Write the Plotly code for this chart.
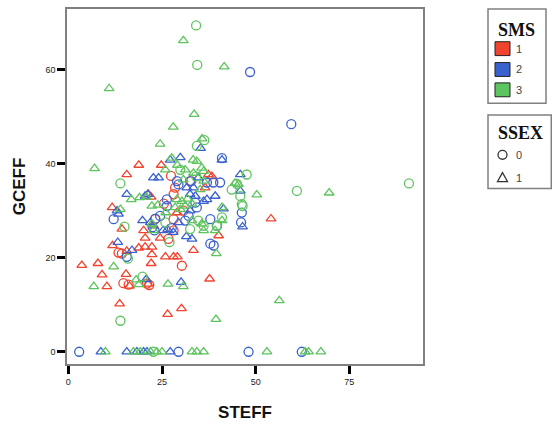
import plotly.graph_objects as go

# ---- data (STEFF, GCEFF) by SMS group and SSEX ----
red_circle_steff = [27.4, 28.5, 28.1, 30.7, 28.1, 23.2, 13.4, 14.3, 14.7, 16.1, 21.0, 21.6, 30.3, 28.1, 26.7, 25.5, 32.8]
red_circle_gceff = [37.4, 34.9, 33.5, 30.0, 28.2, 28.2, 21.1, 20.9, 14.6, 14.3, 14.5, 14.2, 18.3, 25.8, 24.0, 31.5, 36.3]

red_tri_steff = [18.8, 24.8, 15.6, 21.4, 22.1, 11.7, 14.3, 22.7, 20.1, 20.5, 24.5, 18.8, 20.5, 22.3, 22.3,
                 25.9, 28.1, 29.1, 22.1, 7.9, 3.6, 9.0, 15.4, 21.3, 10.3, 13.7, 26.5, 30.2, 37.7, 33.4,
                 40.1, 36.5, 37.4, 38.3, 29.0, 54.1, 11.8, 15.6, 16.3]
red_tri_gceff = [39.7, 39.7, 37.7, 33.5, 32.9, 30.7, 26.1, 26.8, 25.8, 24.2, 24.2, 22.1, 22.3, 22.3, 20.7,
                 20.2, 20.2, 20.2, 18.8, 18.8, 18.4, 16.4, 16.5, 14.4, 13.9, 10.2, 8.0, 9.2, 15.5, 21.6,
                 24.7, 34.9, 37.7, 37.3, 29.6, 28.3, 22.6, 21.4, 14.0]

blue_circle_steff = [48.5, 59.5, 41.0, 32.5, 37.0, 40.5, 38.7, 46.3, 46.1, 37.9, 39.7, 29.0, 29.4, 33.9, 34.3,
                     32.1, 31.2, 26.3, 26.3, 12.1, 24.5, 27.6, 15.6, 37.9, 38.8, 23.2, 22.5, 23.0,
                     2.9, 29.4, 48.1, 62.3]
blue_circle_gceff = [59.5, 48.4, 41.2, 36.3, 36.0, 36.0, 36.0, 29.6, 27.5, 28.2, 26.8, 36.3, 35.6, 31.7, 30.7,
                     28.9, 27.9, 32.4, 31.0, 28.2, 28.9, 26.3, 20.2, 23.0, 22.6, 28.3, 26.5, 25.8,
                     0, 0, 0, 0]

blue_tri_steff = [35.3, 41.0, 29.9, 34.7, 45.9, 39.2, 45.9, 41.4, 32.5, 46.5, 22.7, 24.1, 15.6, 20.5, 21.2,
                  13.0, 13.4, 19.8, 21.9, 31.6, 33.4, 32.5, 33.9, 36.1, 37.0, 29.4, 13.2, 17.0, 20.8, 30.1,
                  25.3, 26.5, 28.0, 31.5, 33.0, 27.2,
                  8.7, 15.6, 18.3, 20.1, 21.0, 27.2]
blue_tri_gceff = [43.3, 40.8, 41.3, 37.0, 37.7, 33.1, 34.2, 30.4, 30.0, 26.6, 37.0, 37.0, 33.5, 33.1, 33.5,
                  30.0, 29.3, 27.9, 27.5, 34.9, 34.9, 33.5, 33.1, 32.0, 32.4, 27.5, 23.3, 21.6, 15.4, 14.8,
                  25.8, 26.0, 25.4, 24.5, 24.0, 40.8,
                  0, 0, 0, 0, 0, 0]

green_circle_steff = [34.1, 34.4, 36.3, 34.3, 90.9, 61.0, 13.9, 29.9, 34.1, 47.6, 43.6, 45.9, 46.3, 41.0, 34.7,
                      36.1, 39.6, 15.0, 25.9, 27.0, 32.5, 15.9, 19.8, 13.9, 22.7, 46.5, 45.0]
green_circle_gceff = [69.4, 61.0, 45.0, 43.8, 35.8, 34.2, 35.8, 38.7, 37.3, 37.7, 34.5, 33.1, 31.4, 28.6, 27.9,
                      26.8, 26.8, 26.6, 27.5, 23.3, 26.1, 19.8, 16.0, 6.6, 0, 31.0, 35.7]

green_tri_steff = [30.7, 41.6, 10.9, 33.6, 28.0, 24.5, 35.7, 7.0, 25.9, 27.6, 29.1, 33.3, 34.3, 35.6, 36.1,
                   31.2, 33.4, 30.7, 36.1, 44.5, 45.4, 50.3, 35.2, 29.0, 30.3, 28.5, 29.9, 31.2, 41.0, 41.0,
                   33.0, 35.6, 26.0, 16.8, 19.0, 20.8, 22.3, 23.9, 13.9, 22.3, 22.7, 36.1, 39.2, 39.5, 12.1,
                   6.8, 18.1, 18.8, 26.6, 30.7, 39.4, 56.3, 69.6, 31.8, 33.0,
                   9.9, 17.4, 19.2, 21.9, 23.6, 25.0, 33.0, 34.3, 36.1, 53.0, 63.2, 64.1, 67.4]
green_tri_gceff = [66.2, 60.6, 56.0, 50.5, 47.8, 44.2, 45.3, 39.0, 38.7, 41.2, 39.7, 40.8, 40.5, 39.1, 38.4,
                   38.7, 38.0, 36.6, 36.3, 35.9, 35.6, 33.4, 34.5, 32.4, 32.0, 30.7, 30.3, 31.0, 30.7, 27.9,
                   27.9, 27.2, 29.6, 32.4, 32.8, 32.9, 31.0, 31.2, 30.3, 27.2, 25.8, 25.8, 25.8, 20.9, 18.1,
                   13.9, 15.3, 14.3, 14.4, 13.9, 6.9, 10.9, 33.8, 32.5, 31.5,
                   0, 0, 0, 0, 0, 0, 0, 0, 0, 0, 0, 0, 0]

sms_labels = ["1", "2", "3"]
ssex_labels = ["0", "1"]
x_ticks = [0, 25, 50, 75]
y_ticks = [0, 20, 40, 60]

RED, BLUE, GREEN = "#F0442F", "#3A62CF", "#5EC45E"

groups = [
    (red_tri_steff, red_tri_gceff, RED, "triangle-up-open"),
    (red_circle_steff, red_circle_gceff, RED, "circle-open"),
    (blue_tri_steff, blue_tri_gceff, BLUE, "triangle-up-open"),
    (blue_circle_steff, blue_circle_gceff, BLUE, "circle-open"),
    (green_circle_steff, green_circle_gceff, GREEN, "circle-open"),
    (green_tri_steff, green_tri_gceff, GREEN, "triangle-up-open"),
]

fig = go.Figure()
for xs, ys, col, sym in groups:
    fig.add_trace(go.Scatter(
        x=xs, y=ys, mode="markers", showlegend=False, hoverinfo="x+y",
        marker=dict(symbol=sym, size=9 if sym.startswith("circle") else 8.5,
                    color=col, line=dict(width=1.3, color=col)),
    ))

# ---- layout geometry (page pixels) ----
W, H = 552, 426
PL, PR, PT, PB = 67, 423, 7, 365   # plot area edges


def px(x):
    return (x - PL) / (PR - PL)


def py(y):
    return (PB - y) / (PB - PT)


shapes = []
annotations = []

# legend boxes
for (x0, y0, x1, y1) in [(488, 7, 546, 102), (488, 114, 551.3, 188)]:
    shapes.append(dict(type="rect", xref="paper", yref="paper",
                       x0=px(x0), x1=px(x1), y0=py(y1), y1=py(y0),
                       line=dict(color="#808080", width=1.5), fillcolor="white", layer="above"))

# SMS legend
annotations.append(dict(xref="paper", yref="paper", x=px(496), y=py(28.5), xanchor="left", yanchor="middle",
                        text="<b>SMS</b>", showarrow=False,
                        font=dict(family="Liberation Serif", size=18, color="#111111")))
for lab, col, cy in zip(sms_labels, [RED, BLUE, GREEN], [47, 68, 88.5]):
    shapes.append(dict(type="rect", xref="paper", yref="paper",
                       x0=px(495), x1=px(510), y0=py(cy + 7), y1=py(cy - 7),
                       line=dict(color="#222222", width=1), fillcolor=col, layer="above"))
    annotations.append(dict(xref="paper", yref="paper", x=px(514), y=py(cy), xanchor="left", yanchor="middle",
                            text=lab, showarrow=False,
                            font=dict(family="Liberation Sans", size=11, color="#444444")))

# SSEX legend
annotations.append(dict(xref="paper", yref="paper", x=px(496), y=py(132.5), xanchor="left", yanchor="middle",
                        text="<b>SSEX</b>", showarrow=False,
                        font=dict(family="Liberation Serif", size=18, color="#111111")))
cy0, cy1 = 154, 177
shapes.append(dict(type="circle", xref="paper", yref="paper",
                   x0=px(498), x1=px(507), y0=py(cy0 + 4.5), y1=py(cy0 - 4.5),
                   line=dict(color="#333333", width=1.3), layer="above"))
tri_path = "M {a},{b} L {c},{d} L {e},{d} Z".format(
    a=px(502.5), b=py(cy1 - 5), c=px(497.5), d=py(cy1 + 4), e=px(507.5))
shapes.append(dict(type="path", xref="paper", yref="paper", path=tri_path,
                   line=dict(color="#333333", width=1.3), layer="above"))
for lab, cy in zip(ssex_labels, [cy0, cy1]):
    annotations.append(dict(xref="paper", yref="paper", x=px(514), y=py(cy), xanchor="left", yanchor="middle",
                            text=lab, showarrow=False,
                            font=dict(family="Liberation Sans", size=11, color="#444444")))

axis_common = dict(
    showgrid=False, zeroline=False, showline=True, mirror=True,
    linecolor="#808080", linewidth=1.5,
    ticks="outside", ticklen=8, tickwidth=3, tickcolor="#000000",
    tickfont=dict(family="Liberation Sans", size=9, color="#222222"),
)

fig.update_layout(
    width=W, height=H,
    margin=dict(l=PL, r=W - PR, t=PT, b=H - PB),
    paper_bgcolor="white", plot_bgcolor="white",
    showlegend=False,
    xaxis=dict(range=[-0.35, 94.65], tickvals=x_ticks,
               title=dict(text="STEFF", standoff=21,
                          font=dict(family="Liberation Sans", size=17, color="#111111", weight="bold")),
               **axis_common),
    yaxis=dict(range=[-2.6, 72.9], tickvals=y_ticks,
               title=dict(text="GCEFF", standoff=15,
                          font=dict(family="Liberation Sans", size=17, color="#111111", weight="bold")),
               **axis_common),
    shapes=shapes,
    annotations=annotations,
)

fig.write_html("out.html", config={"displayModeBar": False},
               post_script="document.body.style.margin='0px';")
